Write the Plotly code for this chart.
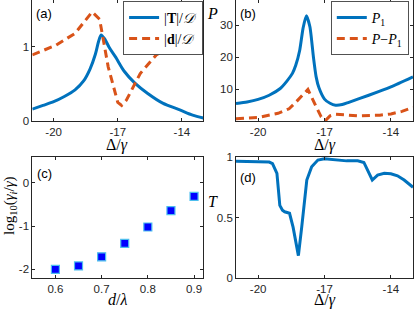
import plotly.graph_objects as go

# ---------------- data ----------------
# panel (a)
a_T_x = [-21, -20.5, -20, -19.5, -19, -18.6, -18.3, -18.05, -17.9, -17.78, -17.6, -17.4, -17.1, -16.7, -16.2, -15.6, -14.9, -14.1, -13.5, -13.0]
a_T_y = [0.16, 0.21, 0.26, 0.33, 0.42, 0.54, 0.70, 0.90, 1.07, 1.16, 1.10, 0.99, 0.86, 0.67, 0.51, 0.37, 0.24, 0.15, 0.08, 0.04]
a_d_x = [-21, -19.9, -19.0, -18.2, -17.85, -17.45, -17.0, -16.82, -16.6, -15.95, -15.2, -14.25, -13.0]
a_d_y = [0.89, 1.02, 1.18, 1.47, 1.37, 0.73, 0.25, 0.21, 0.28, 0.64, 0.89, 1.05, 1.18]

# panel (b)
b_P1_x = [-21, -20.5, -20, -19.5, -19, -18.7, -18.45, -18.3, -18.12, -17.97, -17.82, -17.66, -17.5, -17.38, -17.25, -17.0, -16.75, -16.5, -16.2, -15.9, -15.0, -14.0, -13.0]
b_P1_y = [5.6, 6.1, 6.9, 8.2, 10.3, 12.6, 15.0, 17.5, 22.2, 29.0, 32.9, 29.5, 20.0, 14.0, 10.5, 7.0, 5.7, 5.1, 5.3, 6.0, 8.2, 10.8, 13.9]
b_PmP1_x = [-21, -20, -19.1, -18.6, -18.3, -17.75, -17.4, -17.15, -16.95, -16.75, -16.5, -15.5, -14.5, -14.0, -13.5, -13.0]
b_PmP1_y = [0.9, 1.3, 2.6, 4.0, 6.0, 10.0, 5.0, 1.5, 0.4, 1.8, 2.3, 1.8, 2.0, 2.4, 3.2, 4.4]

# panel (c)
c_x = [0.60, 0.65, 0.70, 0.75, 0.80, 0.85, 0.90]
c_y = [-2.00, -1.92, -1.71, -1.40, -1.02, -0.64, -0.31]

# panel (d)
d_x = [-21, -20, -19.5, -19.35, -19.15, -19.02, -18.9, -18.8, -18.58, -18.42, -18.3, -18.18, -18.03, -17.8, -17.58, -17.3, -17.0, -16.5, -16.0, -15.5, -15.22, -14.84, -14.6, -14.3, -14.0, -13.7, -13.4, -13.0]
d_y = [0.965, 0.962, 0.958, 0.945, 0.865, 0.60, 0.56, 0.547, 0.535, 0.42, 0.30, 0.185, 0.42, 0.81, 0.92, 0.975, 0.985, 0.978, 0.968, 0.968, 0.955, 0.81, 0.85, 0.865, 0.862, 0.845, 0.81, 0.75]

delta_ticks = [-20, -17, -14]
delta_ticktext = ["-20", "-17", "-14"]
a_yticks = [0, 1]
a_yticktext = ["0", "1"]
b_yticks = [10, 20, 30]
b_yticktext = ["10", "20", "30"]
c_xticks = [0.6, 0.7, 0.8, 0.9]
c_xticktext = ["0.6", "0.7", "0.8", "0.9"]
c_yticks = [-2, -1, 0]
c_yticktext = ["-2", "-1", "0"]
d_yticks = [0, 0.5, 1]
d_yticktext = ["0", "0.5", "1"]

BLUE = "#0072BD"
RED = "#D95319"
AX = "#262626"
W, H = 415, 311

fig = go.Figure()

fig.add_trace(go.Scatter(x=a_T_x, y=a_T_y, mode="lines", line=dict(color=BLUE, width=3, shape="spline", smoothing=0.8),
                         name="|<b>T</b>|/<i>𝒟</i>", xaxis="x", yaxis="y", legend="legend"))
fig.add_trace(go.Scatter(x=a_d_x, y=a_d_y, mode="lines", line=dict(color=RED, width=3, dash="8px,5px"),
                         name="|<b>d</b>|/<i>𝒟</i>", xaxis="x", yaxis="y", legend="legend"))
fig.add_trace(go.Scatter(x=b_P1_x, y=b_P1_y, mode="lines", line=dict(color=BLUE, width=3, shape="spline", smoothing=0.6),
                         name="<i>P</i><sub>1</sub>", xaxis="x2", yaxis="y2", legend="legend2"))
fig.add_trace(go.Scatter(x=b_PmP1_x, y=b_PmP1_y, mode="lines", line=dict(color=RED, width=3, dash="8px,5px"),
                         name="<i>P</i>−<i>P</i><sub>1</sub>", xaxis="x2", yaxis="y2", legend="legend2"))
fig.add_trace(go.Scatter(x=c_x, y=c_y, mode="markers",
                         marker=dict(symbol="square", size=8, color="#0000FF", line=dict(color="#4DBEEE", width=1.2)),
                         showlegend=False, xaxis="x3", yaxis="y3"))
fig.add_trace(go.Scatter(x=d_x, y=d_y, mode="lines", line=dict(color=BLUE, width=3),
                         showlegend=False, xaxis="x4", yaxis="y4"))

def px_x(p):
    return p / W

def px_y(p):
    return 1 - p / H

xa_dom = [px_x(32.3), px_x(203.3)]
xb_dom = [px_x(236), px_x(413)]
ytop_dom = [px_y(121), px_y(0)]
ybot_dom = [px_y(278), px_y(157)]

tickfont = dict(family="Liberation Sans, Arial, sans-serif", size=11.5, color="#262626")
common = dict(showline=True, linecolor=AX, linewidth=0.8, mirror="ticks", ticks="inside", ticklen=3,
              tickcolor=AX, tickwidth=0.8, showgrid=False, zeroline=False, tickfont=tickfont, tickmode="array")

legfont = dict(family="Liberation Serif, serif", size=14, color="black")
fig.update_layout(
    xaxis=dict(domain=xa_dom, range=[-21, -13], anchor="y", tickvals=delta_ticks, ticktext=delta_ticktext, **common),
    yaxis=dict(domain=ytop_dom, range=[0, 1.63], anchor="x", tickvals=a_yticks, ticktext=a_yticktext, **common),
    xaxis2=dict(domain=xb_dom, range=[-21, -13], anchor="y2", tickvals=delta_ticks, ticktext=delta_ticktext, **common),
    yaxis2=dict(domain=ytop_dom, range=[0.2, 37.8], anchor="x2", tickvals=b_yticks, ticktext=b_yticktext, **common),
    xaxis3=dict(domain=xa_dom, range=[0.55, 0.92], anchor="y3", tickvals=c_xticks, ticktext=c_xticktext, **common),
    yaxis3=dict(domain=ybot_dom, range=[-2.2, 0.6], anchor="x3", tickvals=c_yticks, ticktext=c_yticktext, **common),
    xaxis4=dict(domain=xb_dom, range=[-21, -13], anchor="y4", tickvals=delta_ticks, ticktext=delta_ticktext, **common),
    yaxis4=dict(domain=ybot_dom, range=[0, 1], anchor="x4", tickvals=d_yticks, ticktext=d_yticktext, **common),
    width=W, height=H,
    margin=dict(l=0, r=0, t=0, b=0, autoexpand=False),
    paper_bgcolor="white", plot_bgcolor="white",
    legend=dict(x=px_x(203.3), y=px_y(1), xanchor="right", yanchor="top", bgcolor="white",
                bordercolor=AX, borderwidth=0.8, font=legfont, itemwidth=30, tracegroupgap=0),
    legend2=dict(x=px_x(409), y=px_y(1), xanchor="right", yanchor="top", bgcolor="white",
                 bordercolor=AX, borderwidth=0.8, font=legfont, itemwidth=30, tracegroupgap=0),
)

serif = dict(family="Liberation Serif, serif", size=16, color="black")
sans = dict(family="Liberation Sans, Arial, sans-serif", size=13, color="black")
ann = [
    dict(x=px_x(117), y=px_y(145), text="Δ/<i>γ</i>", font=serif),
    dict(x=px_x(325), y=px_y(145), text="Δ/<i>γ</i>", font=serif),
    dict(x=px_x(117), y=px_y(299), text="<i>d</i>/<i>λ</i>", font=serif),
    dict(x=px_x(325), y=px_y(300), text="Δ/<i>γ</i>", font=serif),
    dict(x=px_x(213), y=px_y(14), text="<i>P</i>", font=serif),
    dict(x=px_x(213), y=px_y(201), text="<i>T</i>", font=serif),
    dict(x=px_x(10), y=px_y(206), text="log<sub>10</sub>(<i>γ<sub>i</sub></i>/<i>γ</i>)", font=dict(family="Liberation Serif, serif", size=15, color="black"), textangle=-90),
    dict(x=px_x(44), y=px_y(14), text="(a)", font=sans),
    dict(x=px_x(248), y=px_y(14), text="(b)", font=sans),
    dict(x=px_x(44), y=px_y(173), text="(c)", font=sans),
    dict(x=px_x(248), y=px_y(177), text="(d)", font=sans),
]
for a in ann:
    a.update(xref="paper", yref="paper", showarrow=False, xanchor="center", yanchor="middle")
fig.update_layout(annotations=ann)

fig.write_html("out.html", config={"displayModeBar": False},
               post_script="document.body.style.margin='0px';document.body.style.overflow='hidden';")
